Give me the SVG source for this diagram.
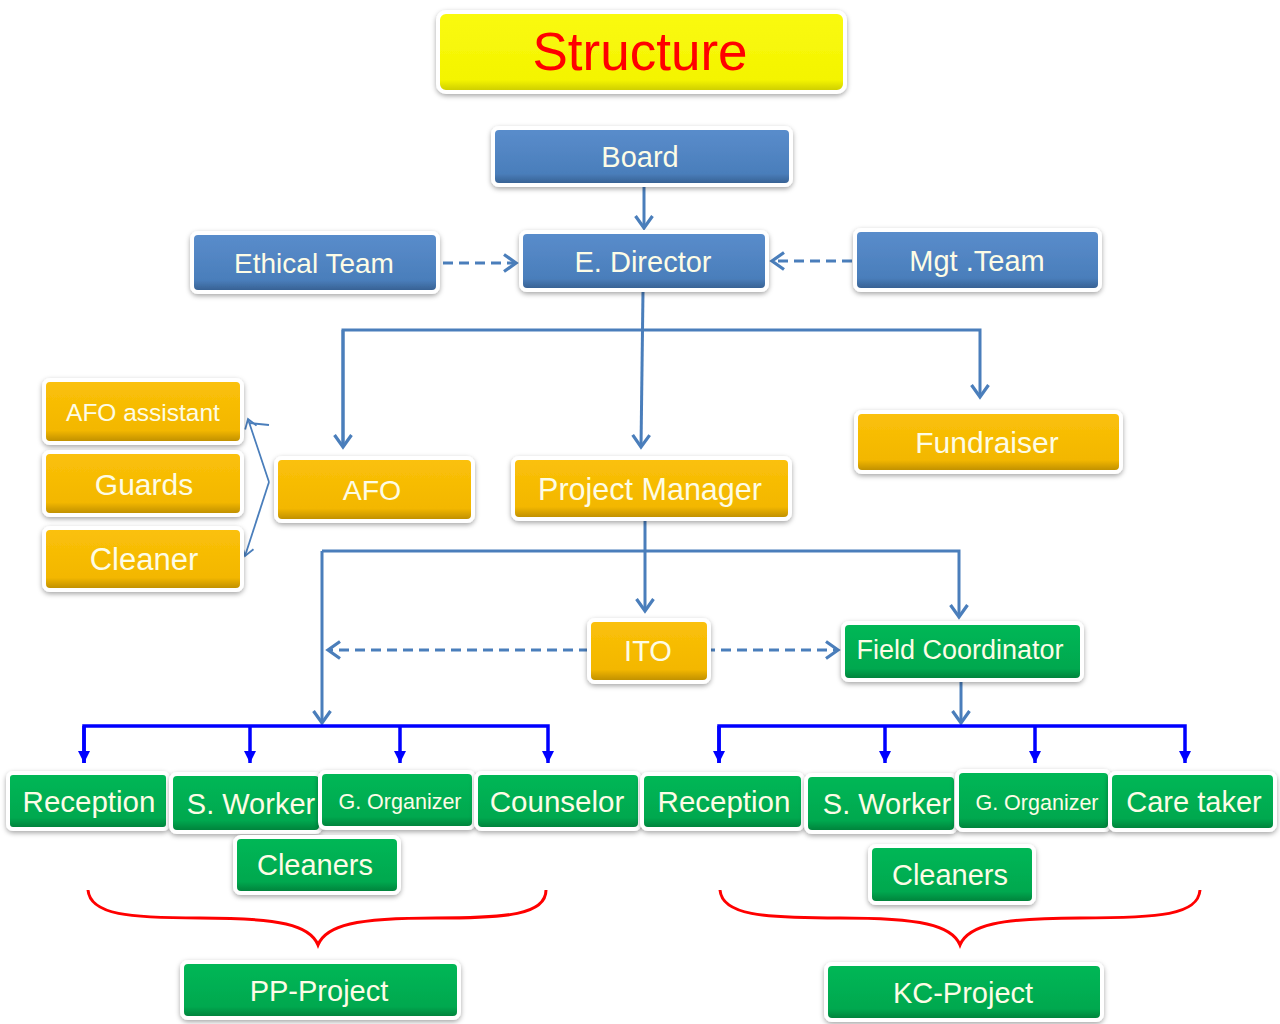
<svg xmlns="http://www.w3.org/2000/svg" width="1280" height="1024" viewBox="0 0 1280 1024">
<defs>
  <linearGradient id="gBlue" x1="0" y1="0" x2="0" y2="1">
    <stop offset="0" stop-color="#5a8dcc"/>
    <stop offset="0.8" stop-color="#4a7ebb"/>
    <stop offset="1" stop-color="#345c8c"/>
  </linearGradient>
  <linearGradient id="gYel" x1="0" y1="0" x2="0" y2="1">
    <stop offset="0" stop-color="#fbc10a"/>
    <stop offset="0.8" stop-color="#f3b700"/>
    <stop offset="1" stop-color="#b88a00"/>
  </linearGradient>
  <linearGradient id="gGrn" x1="0" y1="0" x2="0" y2="1">
    <stop offset="0" stop-color="#06b856"/>
    <stop offset="0.8" stop-color="#00a84f"/>
    <stop offset="1" stop-color="#007c38"/>
  </linearGradient>
  <linearGradient id="gTitle" x1="0" y1="0" x2="0" y2="1">
    <stop offset="0" stop-color="#fafa10"/>
    <stop offset="0.85" stop-color="#f4f400"/>
    <stop offset="1" stop-color="#c8c800"/>
  </linearGradient>
  <filter id="sh" x="-10%" y="-20%" width="120%" height="150%">
    <feDropShadow dx="0" dy="2" stdDeviation="2.5" flood-color="#000" flood-opacity="0.35"/>
  </filter>
  <marker id="av" markerUnits="userSpaceOnUse" markerWidth="24" markerHeight="24" viewBox="0 0 24 24" refX="16" refY="12" orient="auto">
    <path d="M4,3.5 L16,12 L4,20.5" fill="none" stroke="#4a7ebb" stroke-width="3.2"/>
  </marker>
  <marker id="avs" markerUnits="userSpaceOnUse" markerWidth="20" markerHeight="20" viewBox="0 0 20 20" refX="14" refY="10" orient="auto">
    <path d="M5,4 L14,10 L5,16" fill="none" stroke="#4a7ebb" stroke-width="1.8"/>
  </marker>
  <marker id="tri" markerUnits="userSpaceOnUse" markerWidth="16" markerHeight="16" viewBox="0 0 16 16" refX="14" refY="8" orient="auto">
    <path d="M2,2 L14,8 L2,14 Z" fill="#0000ff"/>
  </marker>
</defs>
<style>
  .n rect { stroke: #ffffff; stroke-width: 4; filter: url(#sh); }
  .b rect { fill: url(#gBlue); }
  .y rect { fill: url(#gYel); }
  .g rect { fill: url(#gGrn); }
  .n text { font-family: "Liberation Sans", Arial, sans-serif; fill: #fdfce6; text-anchor: middle; }
  .c { fill: none; stroke: #4a7ebb; stroke-width: 3; }
  .d { stroke-dasharray: 10 6; }
  .bl { fill: none; stroke: #0000ff; stroke-width: 3.5; }
  .br { fill: none; stroke: #ff0000; stroke-width: 3; }
</style>
<rect width="1280" height="1024" fill="#ffffff"/>

<g id="connectors">
  <line class="c" x1="644" y1="186" x2="644" y2="228" marker-end="url(#av)"/>
  <line class="c d" x1="443" y1="263" x2="516" y2="263" marker-end="url(#av)"/>
  <line class="c d" x1="852" y1="261" x2="772" y2="261" marker-end="url(#av)"/>
  <line class="c" x1="643" y1="291" x2="641" y2="447" marker-end="url(#av)"/>
  <polyline class="c" points="343,447 343,330 980,330 980,397" marker-end="url(#av)"/>
  <line class="c" x1="343" y1="330" x2="343" y2="447" marker-end="url(#av)"/>
  <line class="c" x1="269" y1="482" x2="248" y2="419" style="stroke-width:1.8" marker-end="url(#avs)"/>
  <line class="c" x1="249" y1="423" x2="269" y2="425" style="stroke-width:1.8"/>
  <line class="c" x1="269" y1="482" x2="245" y2="556" style="stroke-width:1.8" marker-end="url(#avs)"/>
  <line class="c" x1="645" y1="520" x2="645" y2="611" marker-end="url(#av)"/>
  <polyline class="c" points="322,551 959,551 959,617" marker-end="url(#av)"/>
  <line class="c" x1="322" y1="551" x2="322" y2="723" marker-end="url(#av)"/>
  <line class="c d" x1="705" y1="650" x2="838" y2="650" marker-end="url(#av)"/>
  <line class="c d" x1="589" y1="650" x2="328" y2="650" marker-end="url(#av)"/>
  <line class="c" x1="961" y1="681" x2="961" y2="723" marker-end="url(#av)"/>
  <g id="bracket-left">
    <polyline class="bl" points="84,763 84,726 548,726 548,763" marker-end="url(#tri)"/>
    <line class="bl" x1="84" y1="726" x2="84" y2="763" marker-end="url(#tri)"/>
    <line class="bl" x1="250" y1="726" x2="250" y2="763" marker-end="url(#tri)"/>
    <line class="bl" x1="400" y1="726" x2="400" y2="763" marker-end="url(#tri)"/>
  </g>
  <g id="bracket-right">
    <polyline class="bl" points="719,763 719,726 1185,726 1185,763" marker-end="url(#tri)"/>
    <line class="bl" x1="719" y1="726" x2="719" y2="763" marker-end="url(#tri)"/>
    <line class="bl" x1="885" y1="726" x2="885" y2="763" marker-end="url(#tri)"/>
    <line class="bl" x1="1035" y1="726" x2="1035" y2="763" marker-end="url(#tri)"/>
  </g>
  <path class="br" d="M88,890 C90,915 130,918 200,918 C280,918 310,925 318,945 C326,925 356,918 436,918 C506,918 546,915 546,890"/>
  <path class="br" d="M720,890 C722,915 762,918 840,918 C920,918 952,925 960,945 C968,925 1000,918 1080,918 C1160,918 1198,915 1200,890"/>
</g>

<g id="title" class="n">
  <rect x="438" y="12" width="407" height="80" rx="8" style="fill:url(#gTitle)"/>
  <text x="640" y="70" style="fill:#ff0000;font-size:53px">Structure</text>
</g>
<g id="board" class="n b">
  <rect x="493" y="128" width="298" height="57" rx="6"/>
  <text x="640" y="167" style="font-size:29px">Board</text>
</g>
<g id="ethical-team" class="n b">
  <rect x="192" y="233" width="246" height="59" rx="6"/>
  <text x="314" y="273" style="font-size:28px">Ethical Team</text>
</g>
<g id="e-director" class="n b">
  <rect x="521" y="232" width="246" height="58" rx="6"/>
  <text x="643" y="272" style="font-size:29px">E. Director</text>
</g>
<g id="mgt-team" class="n b">
  <rect x="855" y="230" width="245" height="60" rx="6"/>
  <text x="977" y="271" style="font-size:29px">Mgt .Team</text>
</g>
<g id="afo-assistant" class="n y">
  <rect x="44" y="380" width="198" height="63" rx="6"/>
  <text x="143" y="421" style="font-size:24.5px">AFO assistant</text>
</g>
<g id="guards" class="n y">
  <rect x="44" y="452" width="198" height="63" rx="6"/>
  <text x="144" y="495" style="font-size:30px">Guards</text>
</g>
<g id="cleaner" class="n y">
  <rect x="44" y="528" width="198" height="62" rx="6"/>
  <text x="144" y="570" style="font-size:31px">Cleaner</text>
</g>
<g id="afo" class="n y">
  <rect x="276" y="458" width="197" height="63" rx="6"/>
  <text x="372" y="500" style="font-size:28.5px">AFO</text>
</g>
<g id="project-manager" class="n y">
  <rect x="513" y="458" width="277" height="61" rx="6"/>
  <text x="650" y="500" style="font-size:30.5px">Project Manager</text>
</g>
<g id="fundraiser" class="n y">
  <rect x="856" y="412" width="265" height="60" rx="6"/>
  <text x="987" y="453" style="font-size:30px">Fundraiser</text>
</g>
<g id="ito" class="n y">
  <rect x="589" y="620" width="120" height="62" rx="6"/>
  <text x="648" y="661" style="font-size:29px">ITO</text>
</g>
<g id="field-coordinator" class="n g">
  <rect x="843" y="623" width="239" height="57" rx="6"/>
  <text x="960" y="659" style="font-size:27px">Field Coordinator</text>
</g>

<g id="pp-reception" class="n g">
  <rect x="8" y="773" width="160" height="56" rx="5"/>
  <text x="89" y="812" style="font-size:29.5px">Reception</text>
</g>
<g id="pp-s-worker" class="n g">
  <rect x="171" y="774" width="150" height="58" rx="6"/>
  <text x="251" y="814" style="font-size:29px">S. Worker</text>
</g>
<g id="pp-g-organizer" class="n g">
  <rect x="320" y="772" width="154" height="56" rx="6"/>
  <text x="400" y="809" style="font-size:21.5px">G. Organizer</text>
</g>
<g id="pp-counselor" class="n g">
  <rect x="476" y="773" width="164" height="56" rx="6"/>
  <text x="557" y="812" style="font-size:29.5px">Counselor</text>
</g>
<g id="pp-cleaners" class="n g">
  <rect x="235" y="837" width="164" height="56" rx="6"/>
  <text x="315" y="875" style="font-size:29px">Cleaners</text>
</g>
<g id="pp-project" class="n g">
  <rect x="182" y="962" width="277" height="56" rx="6"/>
  <text x="319" y="1001" style="font-size:29px">PP-Project</text>
</g>

<g id="kc-reception" class="n g">
  <rect x="642" y="774" width="161" height="55" rx="6"/>
  <text x="724" y="812" style="font-size:29.5px">Reception</text>
</g>
<g id="kc-s-worker" class="n g">
  <rect x="806" y="775" width="150" height="57" rx="6"/>
  <text x="887" y="814" style="font-size:29px">S. Worker</text>
</g>
<g id="kc-g-organizer" class="n g">
  <rect x="957" y="771" width="153" height="59" rx="6"/>
  <text x="1037" y="810" style="font-size:21.5px">G. Organizer</text>
</g>
<g id="kc-care-taker" class="n g">
  <rect x="1110" y="773" width="165" height="57" rx="6"/>
  <text x="1194" y="812" style="font-size:29px">Care taker</text>
</g>
<g id="kc-cleaners" class="n g">
  <rect x="870" y="846" width="164" height="57" rx="6"/>
  <text x="950" y="885" style="font-size:29px">Cleaners</text>
</g>
<g id="kc-project" class="n g">
  <rect x="826" y="964" width="276" height="56" rx="6"/>
  <text x="963" y="1003" style="font-size:29px">KC-Project</text>
</g>
</svg>
